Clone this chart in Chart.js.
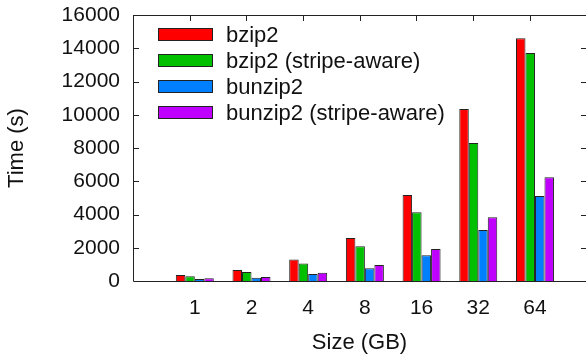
<!DOCTYPE html>
<html>
<head>
<meta charset="utf-8">
<script src="https://cdn.jsdelivr.net/npm/chart.js@4.4.1/dist/chart.umd.min.js"></script>
<style>
  html, body { margin: 0; padding: 0; background: #fff; }
</style>
</head>
<body>
<canvas id="chart" width="586" height="362"></canvas>
<script>
// Datos: tamaño de archivo (GB) y tiempo (s) por herramienta
const sizes = ['1', '2', '4', '8', '16', '32', '64'];
const seriesNames = ['bzip2', 'bzip2 (stripe-aware)', 'bunzip2', 'bunzip2 (stripe-aware)'];
const bzip2 = [360, 660, 1300, 2590, 5170, 10350, 14600];
const bzip2Stripe = [280, 540, 1060, 2090, 4130, 8300, 13720];
const bunzip2 = [120, 200, 420, 760, 1550, 3070, 5110];
const bunzip2Stripe = [160, 240, 500, 960, 1920, 3830, 6240];
const yTicks = [0, 2000, 4000, 6000, 8000, 10000, 12000, 14000, 16000];

const colors = ['#ff0000', '#00c000', '#0080ff', '#c000ff'];
const FONT = 'Liberation Sans, Arial, Helvetica, sans-serif';
const INK = '#111';

const allSeries = [bzip2, bzip2Stripe, bunzip2, bunzip2Stripe];

// Marco del gráfico con marcas hacia adentro (estilo gnuplot)
const framePlugin = {
    id: 'frame',
    afterDatasetsDraw(chart) {
        const {ctx, chartArea: a, scales} = chart;
        ctx.save();
        ctx.strokeStyle = '#222';
        ctx.lineWidth = 1;
        ctx.beginPath();
        ctx.moveTo(a.left + 0.5, a.top + 0.5);
        ctx.lineTo(a.right + 1, a.top + 0.5);
        ctx.moveTo(a.left + 0.5, a.top);
        ctx.lineTo(a.left + 0.5, a.bottom + 0.5);
        ctx.lineTo(a.right + 1, a.bottom + 0.5);
        // marcas del eje Y (izquierda y derecha)
        yTicks.slice(1, -1).forEach(v => {
            const y = Math.round(scales.y.getPixelForValue(v)) + 0.5;
            ctx.moveTo(a.left, y);
            ctx.lineTo(a.left + 6, y);
            ctx.moveTo(a.right, y);
            ctx.lineTo(a.right - 5, y);
        });
        // marcas superiores
        sizes.forEach((_, i) => {
            const x = Math.round(scales.x.getPixelForValue(i - 0.09)) + 0.5;
            ctx.moveTo(x, a.top);
            ctx.lineTo(x, a.top + 6);
        });
        ctx.stroke();
        ctx.restore();
    }
};

// Leyenda dentro del área del gráfico
const legendPlugin = {
    id: 'insideLegend',
    afterDraw(chart) {
        const {ctx, chartArea: a} = chart;
        ctx.save();
        ctx.font = `22px ${FONT}`;
        ctx.textBaseline = 'middle';
        ctx.textAlign = 'left';
        chart.data.datasets.forEach((ds, i) => {
            const cy = a.top + 19.5 + i * 26;
            ctx.fillStyle = ds.backgroundColor;
            ctx.fillRect(a.left + 25, cy - 6.5, 55, 13);
            ctx.strokeStyle = '#222';
            ctx.lineWidth = 1;
            ctx.strokeRect(a.left + 25.5, cy - 6, 54, 12);
            ctx.fillStyle = INK;
            ctx.fillText(ds.label, a.left + 93, cy + 1);
        });
        ctx.restore();
    }
};

new Chart(document.getElementById('chart'), {
    type: 'bar',
    data: {
        datasets: allSeries.map((values, s) => ({
            label: seriesNames[s],
            data: values.map((v, i) => ({x: i, y: v})),
            backgroundColor: colors[s],
            borderColor: '#222',
            borderWidth: 1,
            barPercentage: 1,
            categoryPercentage: 0.67
        }))
    },
    options: {
        responsive: false,
        animation: false,
        layout: { padding: { top: 15, right: 0, left: 0, bottom: 0 } },
        plugins: {
            legend: { display: false },
            tooltip: { enabled: false }
        },
        scales: {
            x: {
                type: 'linear',
                offset: false,
                min: -1.09,
                max: 6.9,
                afterBuildTicks: axis => {
                    axis.ticks = sizes.map((_, i) => ({value: i}));
                },
                afterFit: scale => { scale.height = 81; },
                grid: { display: false, drawTicks: false },
                border: { display: false },
                ticks: {
                    padding: 15,
                    color: INK,
                    font: { family: FONT, size: 21 },
                    callback: v => sizes[v]
                },
                title: {
                    display: true,
                    text: 'Size (GB)',
                    color: INK,
                    font: { family: FONT, size: 22 },
                    padding: { top: 6, bottom: 6 }
                }
            },
            y: {
                min: 0,
                max: 16000,
                afterBuildTicks: axis => {
                    axis.ticks = yTicks.map(v => ({value: v}));
                },
                afterFit: scale => {
                    scale.width = 133;
                    scale.paddingTop = 0;
                    scale.paddingBottom = 0;
                },
                grid: { display: false, drawTicks: false },
                border: { display: false },
                ticks: {
                    padding: 13,
                    color: INK,
                    font: { family: FONT, size: 21 },
                    callback: v => String(v)
                },
                title: {
                    display: true,
                    text: 'Time (s)',
                    color: INK,
                    font: { family: FONT, size: 22 },
                    padding: { top: 4, bottom: 4 }
                }
            }
        }
    },
    plugins: [framePlugin, legendPlugin]
});
</script>
</body>
</html>
